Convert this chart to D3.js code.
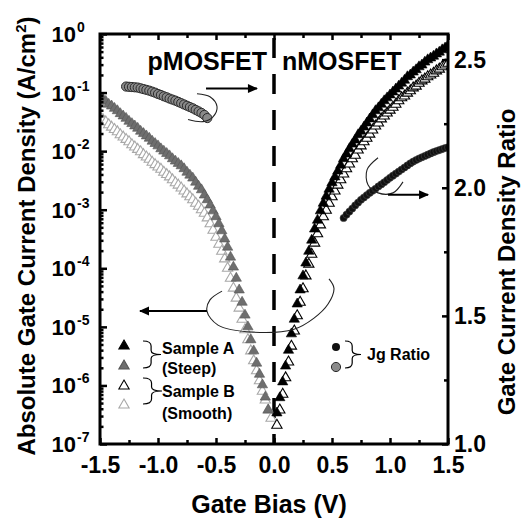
<!DOCTYPE html>
<html>
<head>
<meta charset="utf-8">
<script src="https://d3js.org/d3.v7.min.js"></script>
<style>
  body { margin: 0; background: #fff; }
  svg { font-family: Arial, "Liberation Sans", sans-serif; font-weight: bold; }
</style>
</head>
<body>
<div id="chart"></div>
<script>
// gate bias sweep step (V)
const biasStep = 0.025;

// log10 |Jg| (A/cm2), pMOSFET side, first point at -1.5 V
const pSteepLogJ = [
  -1.08, -1.11, -1.15, -1.20, -1.23, -1.27, -1.31, -1.36, -1.40, -1.44,
  -1.49, -1.53, -1.57, -1.61, -1.66, -1.70, -1.74, -1.78, -1.83, -1.87,
  -1.91, -1.96, -2.00, -2.04, -2.08, -2.13, -2.17, -2.21, -2.25, -2.30,
  -2.36, -2.41, -2.46, -2.53, -2.60, -2.66, -2.75, -2.83, -2.92, -3.02,
  -3.12, -3.24, -3.36, -3.50, -3.64, -3.81, -3.98, -4.17, -4.37, -4.58,
  -4.80, -5.00, -5.22, -5.41, -5.62, -5.81, -5.99, -6.20, -6.42
];
const pSmoothLogJ = [
  -1.42, -1.46, -1.50, -1.55, -1.59, -1.63, -1.67, -1.72, -1.76, -1.80,
  -1.84, -1.89, -1.93, -1.97, -2.01, -2.06, -2.10, -2.14, -2.19, -2.23,
  -2.27, -2.31, -2.36, -2.40, -2.44, -2.49, -2.54, -2.58, -2.63, -2.68,
  -2.73, -2.78, -2.83, -2.89, -2.94, -3.00, -3.06, -3.14, -3.24, -3.35,
  -3.47, -3.59, -3.71, -3.84, -4.00, -4.17, -4.34, -4.51, -4.68, -4.87,
  -5.05, -5.22, -5.41, -5.58, -5.75, -5.92, -6.10, -6.25, -6.42, -6.56
];

// log10 |Jg| (A/cm2), nMOSFET side, first point at +0.025 V
const nSteepLogJ = [
  -6.47, -6.21, -5.94, -5.67, -5.40, -5.12, -4.87, -4.61, -4.37, -4.13,
  -3.91, -3.71, -3.52, -3.33, -3.18, -3.02, -2.89, -2.77, -2.65, -2.54,
  -2.44, -2.34, -2.24, -2.13, -2.05, -1.96, -1.88, -1.81, -1.72, -1.66,
  -1.59, -1.52, -1.45, -1.38, -1.31, -1.26, -1.20, -1.14, -1.09, -1.04,
  -0.99, -0.94, -0.89, -0.84, -0.79, -0.73, -0.70, -0.65, -0.61, -0.56,
  -0.53, -0.48, -0.44, -0.41, -0.38, -0.34, -0.31, -0.27, -0.24, -0.20
];
const nSmoothLogJ = [
  -6.68, -6.42, -6.15, -5.87, -5.60, -5.33, -5.07, -4.81, -4.58, -4.35,
  -4.13, -3.93, -3.76, -3.57, -3.41, -3.26, -3.12, -3.01, -2.89, -2.78,
  -2.68, -2.58, -2.49, -2.39, -2.30, -2.22, -2.13, -2.07, -1.98, -1.91,
  -1.84, -1.78, -1.71, -1.64, -1.57, -1.52, -1.45, -1.40, -1.35, -1.30,
  -1.25, -1.20, -1.14, -1.09, -1.06, -1.01, -0.97, -0.92, -0.89, -0.84,
  -0.80, -0.77, -0.73, -0.70, -0.67, -0.63, -0.60, -0.56, -0.53, -0.50
];

// Jg ratio (right axis)
const pRatioStart = -1.275;
const pRatio = [
  2.395, 2.394, 2.393, 2.392, 2.391, 2.388, 2.385, 2.382, 2.379, 2.375,
  2.371, 2.366, 2.362, 2.357, 2.353, 2.348, 2.344, 2.340, 2.335, 2.330,
  2.325, 2.320, 2.315, 2.310, 2.304, 2.298, 2.292, 2.284, 2.272
];
const nRatioStart = 0.6;
const nRatio = [
  1.882, 1.895, 1.907, 1.919, 1.931, 1.942, 1.953, 1.962, 1.971, 1.980,
  1.988, 1.996, 2.005, 2.013, 2.021, 2.030, 2.039, 2.047, 2.055, 2.063,
  2.071, 2.079, 2.087, 2.095, 2.102, 2.108, 2.114, 2.119, 2.124, 2.129,
  2.134, 2.139, 2.143, 2.147, 2.151, 2.155, 2.158
];

// ticks
const xTicks = [-1.5, -1.0, -0.5, 0.0, 0.5, 1.0, 1.5];
const xMinorTicks = [-1.25, -0.75, -0.25, 0.25, 0.75, 1.25];
const yLeftExp = [0, -1, -2, -3, -4, -5, -6, -7];
const yRightTicks = [1.0, 1.5, 2.0, 2.5];
const yRightMinor = [1.25, 1.75, 2.25];

// annotation guides: [bias, log10 J] or [bias, ratio]
const leftArc = [[-0.448, -4.39], [-0.552, -4.54], [-0.578, -4.73], [-0.483, -4.97],
  [-0.181, -5.09], [0.172, -5.04], [0.345, -4.85], [0.466, -4.61], [0.517, -4.34], [0.474, -4.18]];
const leftArrow = [[-0.578, -4.73], [-1.155, -4.73]];
const pArc = [[-0.664, 2.367], [-0.552, 2.355], [-0.491, 2.316], [-0.526, 2.277], [-0.612, 2.258], [-0.741, 2.266]];
const pArrow = [[-0.586, 2.387], [-0.147, 2.387]];
const nArc = [[0.897, 2.117], [0.802, 2.070], [0.810, 2.012], [0.897, 1.980], [1.026, 1.980], [1.112, 2.023]];
const nArrow = [[0.983, 1.973], [1.328, 1.973]];

const margin = { top: 34, right: 74, bottom: 78, left: 100 },
      width = 522 - margin.left - margin.right,
      height = 522 - margin.top - margin.bottom;

const svgRoot = d3.select("#chart").append("svg")
    .attr("width", 522)
    .attr("height", 522);

const defs = svgRoot.append("defs");
defs.append("clipPath").attr("id", "plotClip")
    .append("rect").attr("width", width).attr("height", height);
defs.append("marker")
    .attr("id", "head")
    .attr("viewBox", "0 0 10 10")
    .attr("refX", 9).attr("refY", 5)
    .attr("markerWidth", 11).attr("markerHeight", 10)
    .attr("markerUnits", "userSpaceOnUse")
    .attr("orient", "auto")
    .append("path").attr("d", "M0,0.5L10,5L0,9.5Z").attr("fill", "#000");

const svg = svgRoot.append("g")
    .attr("transform", `translate(${margin.left},${margin.top})`);

// scales
const x = d3.scaleLinear().domain([-1.5, 1.5]).range([0, width]);
const yL = d3.scaleLog().domain([1e-7, 1]).range([height, 0]);
const yR = d3.scaleLinear().domain([1.0, 2.6]).range([height, 0]);

// build series
function series(start, logs) {
    return logs.map((e, i) => ({ v: start + i * biasStep, j: Math.pow(10, e) }));
}
function ratioSeries(start, vals) {
    return vals.map((r, i) => ({ v: start + i * biasStep, r: r }));
}
const pSteep = series(-1.5, pSteepLogJ);
const pSmooth = series(-1.5, pSmoothLogJ);
const nSteep = series(0.025, nSteepLogJ);
const nSmooth = series(0.025, nSmoothLogJ);
const pRatioData = ratioSeries(pRatioStart, pRatio);
const nRatioData = ratioSeries(nRatioStart, nRatio);

// zero-bias divider
svg.append("line")
    .attr("x1", x(0)).attr("x2", x(0))
    .attr("y1", 0).attr("y2", height)
    .attr("stroke", "#000")
    .attr("stroke-width", 3.5)
    .attr("stroke-dasharray", "20,16")
    .attr("stroke-dashoffset", 32);

const tri = d3.symbol().type(d3.symbolTriangle).size(46);
const plot = svg.append("g").attr("clip-path", "url(#plotClip)");

function drawTriangles(data, fill, stroke, sw) {
    plot.append("g")
        .selectAll("path")
        .data(data)
        .enter().append("path")
        .attr("d", tri)
        .attr("transform", d => `translate(${x(d.v)},${yL(d.j)})`)
        .attr("fill", fill)
        .attr("stroke", stroke)
        .attr("stroke-width", sw);
}
drawTriangles(pSmooth, "#fff", "#a8a8a8", 1.1);
drawTriangles(pSteep, "#6e6e6e", "#555", 0.6);
drawTriangles(nSmooth, "#fff", "#000", 1.1);
drawTriangles(nSteep, "#000", "#000", 0.6);

// ratio circles
plot.append("g").selectAll("circle")
    .data(pRatioData).enter().append("circle")
    .attr("cx", d => x(d.v)).attr("cy", d => yR(d.r))
    .attr("r", 4.6)
    .attr("fill", "#8a8a8a").attr("stroke", "#2a2a2a").attr("stroke-width", 1);
plot.append("g").selectAll("circle")
    .data(nRatioData).enter().append("circle")
    .attr("cx", d => x(d.v)).attr("cy", d => yR(d.r))
    .attr("r", 3.6)
    .attr("fill", "#111").attr("stroke", "#444").attr("stroke-width", 0.6);

// guides
const lineL = d3.line().x(d => x(d[0])).y(d => yL(Math.pow(10, d[1]))).curve(d3.curveCatmullRom);
const lineR = d3.line().x(d => x(d[0])).y(d => yR(d[1])).curve(d3.curveCatmullRom);
function guide(gen, pts) {
    svg.append("path").attr("d", gen(pts)).attr("fill", "none")
        .attr("stroke", "#222").attr("stroke-width", 1.1);
}
function arrow(gen, pts) {
    svg.append("path").attr("d", gen(pts)).attr("fill", "none")
        .attr("stroke", "#000").attr("stroke-width", 2)
        .attr("marker-end", "url(#head)");
}
guide(lineL, leftArc);
arrow(d3.line().x(d => x(d[0])).y(d => yL(Math.pow(10, d[1]))), leftArrow);
guide(lineR, pArc);
arrow(d3.line().x(d => x(d[0])).y(d => yR(d[1])), pArrow);
guide(lineR, nArc);
arrow(d3.line().x(d => x(d[0])).y(d => yR(d[1])), nArrow);

// axes
function styleAxis(g) {
    g.select(".domain").remove();
    g.selectAll(".tick line").attr("stroke", "#000").attr("stroke-width", 2.5);
    g.selectAll("text").attr("fill", "#000").style("font-size", "23px").style("font-weight", "bold");
}
svg.append("g").attr("transform", `translate(0,${height})`)
    .call(d3.axisBottom(x).tickValues(xTicks).tickSize(-6).tickPadding(13).tickFormat(d => d.toFixed(1)))
    .call(styleAxis);
svg.append("g").attr("transform", `translate(0,${height})`)
    .call(d3.axisBottom(x).tickValues(xMinorTicks).tickSize(-4).tickFormat(""))
    .call(styleAxis);
svg.append("g")
    .call(d3.axisTop(x).tickValues(xTicks).tickSize(-6).tickFormat(""))
    .call(styleAxis);
svg.append("g")
    .call(d3.axisTop(x).tickValues(xMinorTicks).tickSize(-4).tickFormat(""))
    .call(styleAxis);

const majorJ = yLeftExp.map(e => Math.pow(10, e));
const minorJ = yL.ticks().filter(t => !majorJ.some(m => Math.abs(Math.log10(t) - Math.log10(m)) < 1e-6));
svg.append("g")
    .call(d3.axisLeft(yL).tickValues(majorJ).tickSize(-7).tickFormat(""))
    .call(styleAxis);
svg.append("g")
    .call(d3.axisLeft(yL).tickValues(minorJ).tickSize(-3.5).tickFormat(""))
    .call(styleAxis);

svg.append("g").attr("transform", `translate(${width},0)`)
    .call(d3.axisRight(yR).tickValues(yRightTicks).tickSize(-6).tickPadding(6).tickFormat(d3.format(".1f")))
    .call(styleAxis);
svg.append("g").attr("transform", `translate(${width},0)`)
    .call(d3.axisRight(yR).tickValues(yRightMinor).tickSize(-4).tickFormat(""))
    .call(styleAxis);

// left tick labels 10^n
const yLabels = svg.append("g");
yLeftExp.forEach(e => {
    const ty = yL(Math.pow(10, e));
    yLabels.append("text")
        .attr("x", -24).attr("y", ty + 8)
        .attr("text-anchor", "end")
        .style("font-size", "22px")
        .text("10");
    yLabels.append("text")
        .attr("x", -23).attr("y", ty - 2)
        .style("font-size", "14px")
        .text(e === 0 ? "0" : "-" + Math.abs(e));
});

// frame
svg.append("rect")
    .attr("width", width).attr("height", height)
    .attr("fill", "none").attr("stroke", "#000").attr("stroke-width", 3);

// region labels
svg.append("text").attr("x", x(0) - 7).attr("y", 36)
    .attr("text-anchor", "end").style("font-size", "25px").text("pMOSFET");
svg.append("text").attr("x", x(0) + 8).attr("y", 36)
    .style("font-size", "25px").text("nMOSFET");

// axis titles
svgRoot.append("text")
    .attr("transform", "rotate(-90)")
    .attr("x", -236).attr("y", 27)
    .attr("dy", "0.35em")
    .attr("text-anchor", "middle")
    .style("font-size", "24px")
    .call(t => {
        t.append("tspan").text("Absolute Gate Current Density (A/cm");
        t.append("tspan").attr("dy", -9).style("font-size", "15px").text("2");
        t.append("tspan").attr("dy", 9).text(")");
    });
svgRoot.append("text")
    .attr("transform", "rotate(-90)")
    .attr("x", -262).attr("y", 507)
    .attr("dy", "0.35em")
    .attr("text-anchor", "middle")
    .style("font-size", "24px")
    .text("Gate Current Density Ratio");
svgRoot.append("text")
    .attr("x", 269).attr("y", 513)
    .attr("text-anchor", "middle")
    .style("font-size", "25px")
    .text("Gate Bias (V)");

// legend (pixel layout)
const leg = svgRoot.append("g");
const legTri = [
    { y: 346, fill: "#000", stroke: "#000" },
    { y: 366, fill: "#6e6e6e", stroke: "#555" },
    { y: 386, fill: "#fff", stroke: "#000" },
    { y: 405, fill: "#fff", stroke: "#a8a8a8" }
];
leg.selectAll("path.lt").data(legTri).enter().append("path")
    .attr("class", "lt")
    .attr("d", tri)
    .attr("transform", d => `translate(124,${d.y})`)
    .attr("fill", d => d.fill).attr("stroke", d => d.stroke).attr("stroke-width", 1.1);

function brace(x0, y0, y1, w) {
    const xm = x0 + w * 0.45, ym = (y0 + y1) / 2;
    return `M${x0},${y0} Q${xm},${y0} ${xm},${y0 + 5} L${xm},${ym - 4} Q${xm},${ym} ${x0 + w},${ym}` +
           ` Q${xm},${ym} ${xm},${ym + 4} L${xm},${y1 - 5} Q${xm},${y1} ${x0},${y1}`;
}
[[143, 341, 368, 18], [143, 378, 404, 19], [345, 341, 368, 16]].forEach(b => {
    leg.append("path").attr("d", brace(b[0], b[1], b[2], b[3]))
        .attr("fill", "none").attr("stroke", "#000").attr("stroke-width", 1.2);
});
leg.append("text").attr("x", 162).attr("y", 354).style("font-size", "16px").text("Sample A");
leg.append("text").attr("x", 162).attr("y", 374).style("font-size", "16px").text("(Steep)");
leg.append("text").attr("x", 162).attr("y", 397).style("font-size", "16px").text("Sample B");
leg.append("text").attr("x", 162).attr("y", 419).style("font-size", "16px").text("(Smooth)");

leg.append("circle").attr("cx", 336).attr("cy", 347).attr("r", 4).attr("fill", "#111");
leg.append("circle").attr("cx", 336).attr("cy", 367).attr("r", 4.6)
    .attr("fill", "#8a8a8a").attr("stroke", "#2a2a2a").attr("stroke-width", 1);
leg.append("text").attr("x", 367).attr("y", 360).style("font-size", "16px").text("Jg Ratio");
</script>
</body>
</html>
